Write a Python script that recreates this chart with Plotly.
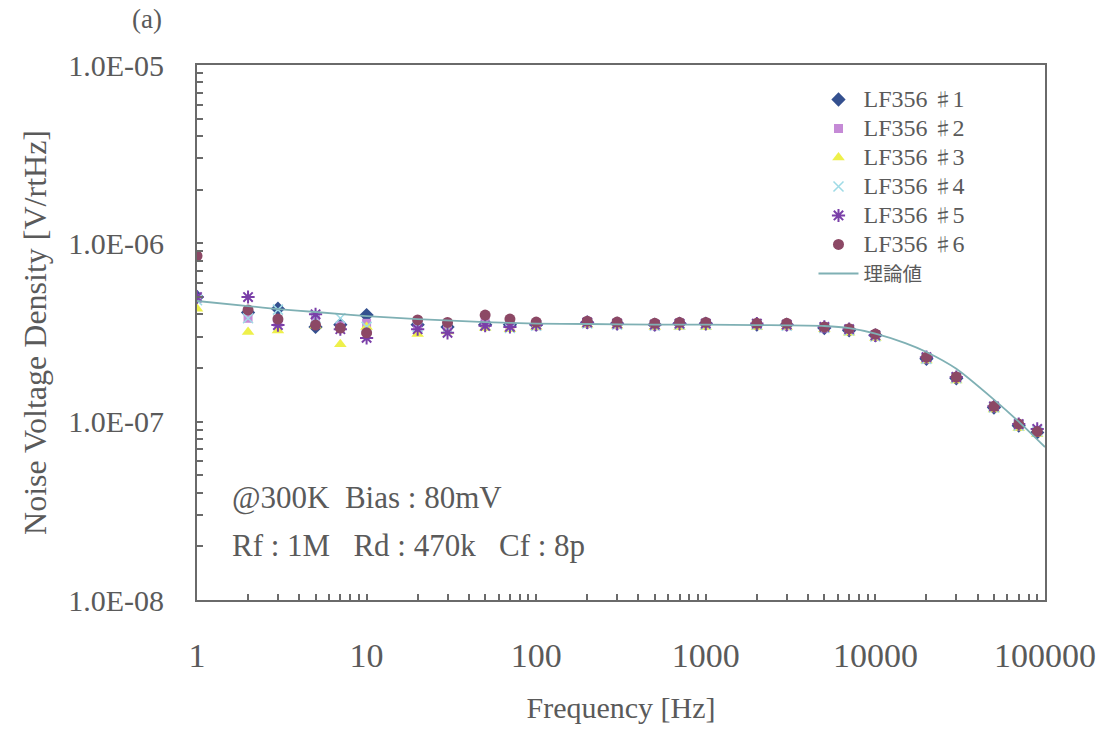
import plotly.graph_objects as go

freq = [1, 2, 3, 5, 7, 10, 20, 30, 50, 70, 100, 200, 300, 500, 700, 1000,
        2000, 3000, 5000, 7000, 10000, 20000, 30000, 50000, 70000, 90000]

lf1 = [5.0e-7, 4.1e-7, 4.3e-7, 3.4e-7, 3.5e-7, 3.96e-7, 3.5e-7, 3.4e-7, 3.5e-7, 3.5e-7, 3.5e-7,
       3.6e-7, 3.55e-7, 3.5e-7, 3.55e-7, 3.55e-7, 3.5e-7, 3.5e-7, 3.35e-7, 3.25e-7, 3.05e-7,
       2.25e-7, 1.75e-7, 1.2e-7, 9.5e-8, 8.7e-8]
lf2 = [4.9e-7, 3.8e-7, 3.6e-7, 3.9e-7, 3.45e-7, 3.56e-7, 3.4e-7, 3.3e-7, 3.6e-7, 3.45e-7, 3.45e-7,
       3.55e-7, 3.5e-7, 3.45e-7, 3.5e-7, 3.5e-7, 3.5e-7, 3.45e-7, 3.35e-7, 3.25e-7, 3.0e-7,
       2.25e-7, 1.75e-7, 1.2e-7, 9.5e-8, 8.8e-8]
lf3 = [4.3e-7, 3.18e-7, 3.25e-7, 3.45e-7, 2.72e-7, 3.4e-7, 3.1e-7, 3.2e-7, 3.35e-7, 3.3e-7, 3.4e-7,
       3.5e-7, 3.45e-7, 3.4e-7, 3.4e-7, 3.4e-7, 3.4e-7, 3.4e-7, 3.3e-7, 3.15e-7, 2.95e-7,
       2.2e-7, 1.7e-7, 1.17e-7, 9.2e-8, 8.5e-8]
lf4 = [4.8e-7, 3.8e-7, 4.25e-7, 3.8e-7, 3.8e-7, 3.4e-7, 3.4e-7, 3.35e-7, 3.45e-7, 3.35e-7, 3.45e-7,
       3.55e-7, 3.5e-7, 3.45e-7, 3.5e-7, 3.5e-7, 3.5e-7, 3.45e-7, 3.35e-7, 3.25e-7, 3.0e-7,
       2.25e-7, 1.75e-7, 1.2e-7, 9.5e-8, 8.8e-8]
lf5 = [5.0e-7, 5.0e-7, 3.48e-7, 4.0e-7, 3.3e-7, 2.95e-7, 3.3e-7, 3.15e-7, 3.45e-7, 3.4e-7, 3.5e-7,
       3.6e-7, 3.55e-7, 3.5e-7, 3.55e-7, 3.55e-7, 3.55e-7, 3.5e-7, 3.4e-7, 3.3e-7, 3.05e-7,
       2.3e-7, 1.78e-7, 1.22e-7, 9.7e-8, 9.1e-8]
lf6 = [8.5e-7, 4.23e-7, 3.76e-7, 3.48e-7, 3.35e-7, 3.15e-7, 3.72e-7, 3.6e-7, 3.96e-7, 3.76e-7, 3.62e-7,
       3.66e-7, 3.62e-7, 3.56e-7, 3.6e-7, 3.6e-7, 3.56e-7, 3.56e-7, 3.4e-7, 3.32e-7, 3.1e-7,
       2.3e-7, 1.78e-7, 1.22e-7, 9.7e-8, 8.8e-8]

theory_f = [1, 2, 3, 5, 10, 20, 50, 100, 200, 500, 1000, 2000, 5000, 7000, 10000,
            15000, 20000, 30000, 50000, 70000, 100000]
theory_v = [4.75e-7, 4.45e-7, 4.28e-7, 4.12e-7, 3.91e-7, 3.76e-7, 3.62e-7, 3.55e-7, 3.53e-7,
            3.50e-7, 3.50e-7, 3.48e-7, 3.44e-7, 3.35e-7, 3.12e-7, 2.76e-7, 2.46e-7, 1.98e-7,
            1.33e-7, 1.0e-7, 7.2e-8]

chip_ids = ["1", "2", "3", "4", "5", "6"]
theory_name = "理論値"

x_tickvals = [m * 10 ** d for d in range(0, 5) for m in range(1, 10)] + [100000]
x_ticktext = ["1", "10", "100", "1000", "10000", "100000"]
y_tickvals = [m * 10.0 ** d for d in range(-8, -5) for m in range(1, 10)] + [1e-5]
y_ticktext = ["1.0E-08", "1.0E-07", "1.0E-06", "1.0E-05"]

def labels(vals, texts):
    out = []
    i = 0
    for k, v in enumerate(vals):
        if k % 9 == 0 or k == len(vals) - 1:
            out.append(texts[i]); i += 1
        else:
            out.append("")
    return out

LEG_SPAN = "<span style='font-size:24px'>{}</span>"
SHARP = "<span style='font-family:Noto Sans CJK JP;font-size:19px'>♯</span>"
CJK_SPAN = "<span style='font-family:Noto Sans CJK JP;font-size:19.5px'>{}</span>"

def legend_name(cid):
    return LEG_SPAN.format("LF356\u00a0" + SHARP + cid)

series = [lf1, lf2, lf3, lf4, lf5, lf6]
styles = [
    dict(symbol="diamond", color="#34508f", size=11),
    dict(symbol="square", color="#c58ad6", size=9),
    dict(symbol="triangle-up", color="#eef04a", size=11),
    dict(symbol="x-thin-open", color="#9fdbe6", size=10, line=dict(width=1.5, color="#9fdbe6")),
    dict(symbol="asterisk-open", color="#7a3fa8", size=11, line=dict(width=2, color="#7a3fa8")),
    dict(symbol="circle", color="#8c4865", size=11),
]

fig = go.Figure()
for cid, vals, st in zip(chip_ids, series, styles):
    fig.add_trace(go.Scatter(x=freq, y=vals, mode="markers", name=legend_name(cid), marker=st))

fig.add_trace(go.Scatter(x=theory_f, y=theory_v, mode="lines", name=CJK_SPAN.format(theory_name),
                         line=dict(color="#7fb0b4", width=1.8, shape="spline", smoothing=0.6)))

font_family = "Liberation Serif, Noto Serif CJK JP, Noto Sans CJK JP, serif"
txt_color = "#5a5a5a"
axis_color = "#6a6a6a"

fig.update_layout(
    width=1097, height=731,
    margin=dict(l=197, r=52, t=65, b=131, autoexpand=False),
    paper_bgcolor="white", plot_bgcolor="white",
    font=dict(family=font_family, color=txt_color, size=26),
    showlegend=True,
    legend=dict(x=0.727, y=0.972, xanchor="left", yanchor="top",
                bgcolor="rgba(0,0,0,0)", font=dict(size=20, color=txt_color),
                tracegroupgap=0, itemwidth=40),
    xaxis=dict(type="log", range=[0, 5], showline=True, linecolor=axis_color, linewidth=2,
               mirror=True, showgrid=False, zeroline=False, automargin=False,
               tickmode="array", tickvals=x_tickvals, ticktext=labels(x_tickvals, x_ticktext),
               ticks="inside", ticklen=6, tickwidth=1.5, tickcolor=axis_color,
               tickfont=dict(size=34, color=txt_color), ticklabelstandoff=24,
               title=dict(text="Frequency [Hz]", font=dict(size=30, color=txt_color), standoff=24)),
    yaxis=dict(type="log", range=[-8, -5], showline=True, linecolor=axis_color, linewidth=2,
               mirror=True, showgrid=False, zeroline=False, automargin=False,
               tickmode="array", tickvals=y_tickvals, ticktext=labels(y_tickvals, y_ticktext),
               ticks="inside", ticklen=6, tickwidth=1.5, tickcolor=axis_color,
               tickfont=dict(size=30, color=txt_color), ticklabelstandoff=25,
               title=dict(text="Noise Voltage Density [V/rtHz]", font=dict(size=32, color=txt_color), standoff=12)),
)

fig.add_annotation(text="@300K\u00a0\u00a0Bias\u00a0:\u00a080mV", xref="paper", yref="paper",
                   x=(230 - 197) / 848, y=(600 - 498) / 535, xanchor="left", yanchor="middle",
                   showarrow=False, font=dict(size=31, color=txt_color))
fig.add_annotation(text="Rf\u00a0:\u00a01M\u00a0\u00a0\u00a0Rd\u00a0:\u00a0470k\u00a0\u00a0\u00a0Cf\u00a0:\u00a08p", xref="paper", yref="paper",
                   x=(230 - 197) / 848, y=(600 - 545) / 535, xanchor="left", yanchor="middle",
                   showarrow=False, font=dict(size=31, color=txt_color))
fig.add_annotation(text="(a)", xref="paper", yref="paper",
                   x=(147 - 197) / 848, y=(600 - 19) / 535, xanchor="center", yanchor="middle",
                   showarrow=False, font=dict(size=27, color=txt_color))

fig.write_html("out.html")
